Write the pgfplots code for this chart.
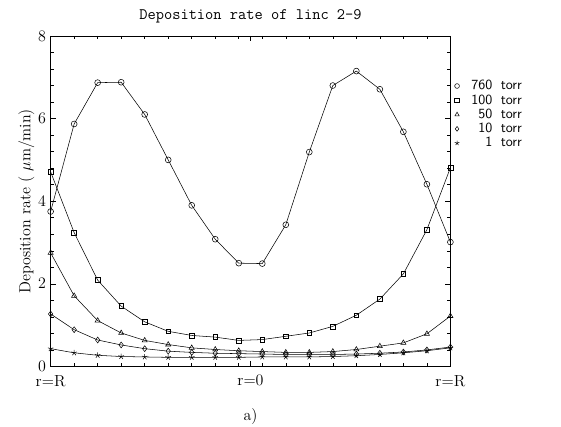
\documentclass[border=0pt]{standalone}
\usepackage{pgfplots}
\pgfplotsset{compat=1.18}
\newcommand{\legtorr}[1]{\hspace{5pt}\makebox[1.8em][r]{#1}\hspace{0.6em}torr}
\begin{document}
\begin{tikzpicture}
\begin{axis}[
  scale only axis, width=300pt, height=248pt,
  xmin=0, xmax=17, ymin=0, ymax=8,
  xtick={0,8.5,17}, xticklabels={r=R,r=0,r=R},
  minor xtick={1,...,16},
  ytick={0,2,4,6,8}, minor y tick num=4,
  tick align=inside, major tick length=4pt, minor tick length=2.5pt,
  tick style={black, thin},
  axis line style={black, thin},
  tick label style={font=\large},
  xticklabel style={yshift=-3pt},
  ylabel={Deposition rate ( $\mu$m/min)},
  ylabel style={font=\large, yshift=-4pt},
  title={\ttfamily\large Deposition rate of linc 2-9},
  every axis plot/.append style={black, thin, mark size=2.2pt, mark options={solid, fill=white}},
  legend style={draw=none, fill=none, at={(1.01,0.87)}, anchor=north west,
    font=\sffamily\fontsize{10.5}{10}\selectfont, row sep=0.5pt, inner sep=0pt,
    nodes={inner sep=0.8pt}},
  legend cell align=left,
  legend image code/.code={\draw[#1, mark size=1.8pt] plot coordinates {(0.05cm,0cm)};},
  clip=false,
]
\addplot[mark=o] coordinates {
(0,3.75) (1,5.87) (2,6.87) (3,6.88) (4,6.10) (5,5.00) (6,3.90) (7,3.08) (8,2.50)
(9,2.49) (10,3.43) (11,5.19) (12,6.80) (13,7.15) (14,6.71) (15,5.68) (16,4.41) (17,3.01)};
\addplot[mark=square, mark size=1.8pt] coordinates {
(0,4.71) (1,3.24) (2,2.09) (3,1.46) (4,1.08) (5,0.85) (6,0.75) (7,0.71) (8,0.63)
(9,0.65) (10,0.73) (11,0.81) (12,0.97) (13,1.24) (14,1.63) (15,2.24) (16,3.31) (17,4.81)};
\addplot[mark=triangle] coordinates {
(0,2.75) (1,1.71) (2,1.11) (3,0.81) (4,0.63) (5,0.53) (6,0.45) (7,0.41) (8,0.38)
(9,0.36) (10,0.34) (11,0.34) (12,0.36) (13,0.41) (14,0.49) (15,0.57) (16,0.79) (17,1.22)};
\addplot[mark=diamond] coordinates {
(0,1.27) (1,0.89) (2,0.64) (3,0.52) (4,0.43) (5,0.37) (6,0.34) (7,0.32) (8,0.31)
(9,0.30) (10,0.29) (11,0.29) (12,0.29) (13,0.30) (14,0.32) (15,0.35) (16,0.40) (17,0.47)};
\addplot[mark=star] coordinates {
(0,0.43) (1,0.33) (2,0.27) (3,0.24) (4,0.23) (5,0.22) (6,0.22) (7,0.22) (8,0.22)
(9,0.23) (10,0.23) (11,0.23) (12,0.24) (13,0.26) (14,0.29) (15,0.33) (16,0.38) (17,0.45)};
\legend{\legtorr{760},\legtorr{100},\legtorr{50},\legtorr{10},\legtorr{1}}
\node[anchor=north, font=\large] at (axis cs:8.5,0) [yshift=-28pt] {a)};
\end{axis}
\pgfresetboundingbox
\path[use as bounding box] (current axis.south west) ++(-38pt,-45pt) rectangle ([xshift=83pt,yshift=27pt]current axis.north east);
\end{tikzpicture}
\end{document}
